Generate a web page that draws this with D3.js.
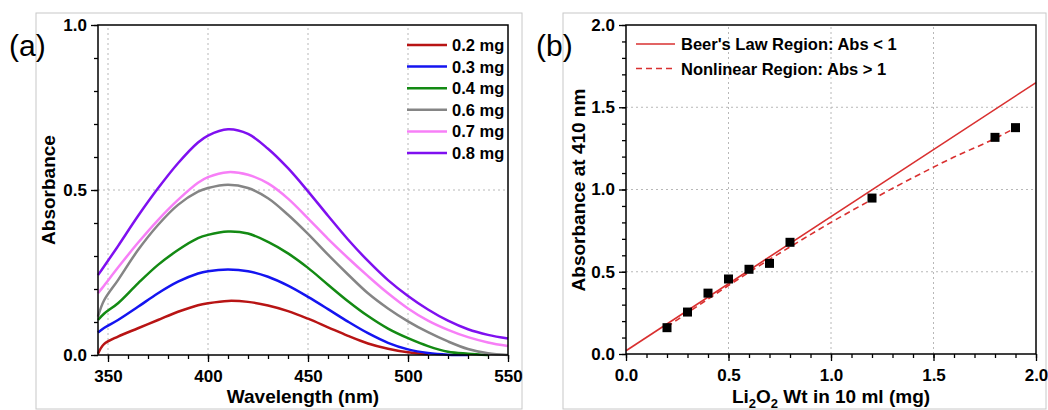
<!DOCTYPE html>
<html>
<head>
<meta charset="utf-8">
<script src="https://cdn.jsdelivr.net/npm/d3@7"></script>
<style>
  body { margin: 0; background: #fff; }
  svg { display: block; font-family: "Liberation Sans", Arial, sans-serif; }
  .tick text { font-weight: bold; font-size: 17px; fill: #000; }
  .tick line { stroke: #000; stroke-width: 1.3; }
  .domain { display: none; }
</style>
</head>
<body>
<svg id="chart" width="1048" height="410"></svg>
<script>
// ---- panel (a): UV-vis spectra ----
const wavelengths = [345, 348, 355, 365, 375, 385, 395, 400, 410, 420, 430, 440, 450, 460, 470, 480, 490, 500, 510, 520, 530, 540, 550];
const spectraLabels = ["0.2 mg", "0.3 mg", "0.4 mg", "0.6 mg", "0.7 mg", "0.8 mg"];
const spectraColors = ["#b81414", "#1414f0", "#138a13", "#858585", "#f77ff7", "#7f10f0"];
const abs02 = [0.004, 0.033, 0.056, 0.081, 0.106, 0.131, 0.151, 0.157, 0.164, 0.161, 0.150, 0.133, 0.110, 0.084, 0.058, 0.035, 0.019, 0.008, 0.002, null, null, null, null];
const abs03 = [0.068, 0.082, 0.106, 0.146, 0.187, 0.222, 0.247, 0.254, 0.259, 0.254, 0.237, 0.210, 0.176, 0.139, 0.101, 0.066, 0.037, 0.017, 0.006, 0.001, 0.0, null, null];
const abs04 = [0.106, 0.125, 0.157, 0.217, 0.273, 0.318, 0.354, 0.364, 0.374, 0.368, 0.343, 0.308, 0.264, 0.213, 0.163, 0.118, 0.080, 0.051, 0.027, 0.010, 0.004, 0.0, null];
const abs06 = [0.116, 0.165, 0.227, 0.318, 0.394, 0.455, 0.495, 0.506, 0.516, 0.506, 0.475, 0.425, 0.367, 0.304, 0.244, 0.187, 0.141, 0.102, 0.069, 0.041, 0.018, 0.005, 0.0];
const abs07 = [0.187, 0.210, 0.265, 0.340, 0.409, 0.470, 0.522, 0.539, 0.554, 0.546, 0.520, 0.474, 0.414, 0.352, 0.294, 0.239, 0.187, 0.141, 0.104, 0.076, 0.054, 0.038, 0.027];
const abs08 = [0.242, 0.268, 0.330, 0.421, 0.505, 0.581, 0.644, 0.665, 0.684, 0.670, 0.625, 0.566, 0.496, 0.422, 0.350, 0.285, 0.227, 0.179, 0.138, 0.104, 0.078, 0.061, 0.050];
const spectra = [abs02, abs03, abs04, abs06, abs07, abs08];
const wlTicks = [350, 400, 450, 500, 550];
const absTicksA = [0, 0.5, 1.0];

// ---- panel (b): calibration ----
const massMg = [0.2, 0.3, 0.4, 0.5, 0.6, 0.7, 0.8, 1.2, 1.8, 1.9];
const abs410 = [0.16, 0.255, 0.37, 0.456, 0.515, 0.551, 0.679, 0.948, 1.317, 1.376];
const beerFitX = [0.0, 2.0];
const beerFitY = [0.02, 1.65];
const nonlinFitX = [0.2, 0.4, 0.6, 0.8, 1.0, 1.2, 1.4, 1.6, 1.8, 1.9];
const nonlinFitY = [0.165, 0.334, 0.497, 0.651, 0.80, 0.939, 1.072, 1.197, 1.31, 1.375];
const fitLabels = ["Beer's Law Region: Abs < 1", "Nonlinear Region: Abs > 1"];
const massTicks = [0, 0.5, 1.0, 1.5, 2.0];
const absTicksB = [0, 0.5, 1.0, 1.5, 2.0];

const svg = d3.select("#chart");

function frame(x0, x1) {
  svg.append("rect")
    .attr("x", x0).attr("y", 13)
    .attr("width", x1 - x0).attr("height", 396)
    .attr("fill", "none").attr("stroke", "#c8c8c8").attr("stroke-width", 1);
}

function drawAxes(x, y, xMajor, xMinor, yMajor, yMinor, fmt) {
  const [xl, xr] = x.range();
  const [yb, yt] = y.range();

  // dotted grid
  const grid = svg.append("g").attr("stroke", "#b8b8b8").attr("stroke-width", 1).attr("stroke-dasharray", "2,3");
  xMajor.filter(v => x(v) > xl + 2 && x(v) < xr - 2).forEach(v => {
    grid.append("line").attr("x1", x(v)).attr("x2", x(v)).attr("y1", yb).attr("y2", yt);
  });
  yMajor.filter(v => y(v) < yb - 2 && y(v) > yt + 2).forEach(v => {
    grid.append("line").attr("x1", xl).attr("x2", xr).attr("y1", y(v)).attr("y2", y(v));
  });

  svg.append("g").attr("transform", `translate(0,${yb})`)
    .call(d3.axisBottom(x).tickValues(xMinor).tickSize(4).tickFormat(""));
  svg.append("g").attr("transform", `translate(0,${yb})`)
    .call(d3.axisBottom(x).tickValues(xMajor).tickSize(7).tickPadding(8).tickFormat(fmt.x));
  svg.append("g").attr("transform", `translate(${xl},0)`)
    .call(d3.axisLeft(y).tickValues(yMinor).tickSize(4).tickFormat(""));
  svg.append("g").attr("transform", `translate(${xl},0)`)
    .call(d3.axisLeft(y).tickValues(yMajor).tickSize(7).tickPadding(4).tickFormat(fmt.y));
}

function box(x, y) {
  const [xl, xr] = x.range();
  const [yb, yt] = y.range();
  svg.append("rect")
    .attr("x", xl).attr("y", yt)
    .attr("width", xr - xl).attr("height", yb - yt)
    .attr("fill", "none").attr("stroke", "#000").attr("stroke-width", 1.5);
}

function range(a, b, step) {
  const out = [];
  for (let v = a; v <= b + 1e-9; v += step) out.push(+v.toFixed(3));
  return out;
}

// ================= panel (a) =================
frame(36, 522);
const xA = d3.scaleLinear().domain([345, 550]).range([98, 508]);
const yA = d3.scaleLinear().domain([0, 1]).range([355, 25]);

drawAxes(xA, yA, wlTicks, range(350, 550, 10), absTicksA, range(0, 1, 0.1),
  { x: d3.format("d"), y: d3.format(".1f") });

const specLine = d3.line()
  .defined(d => d[1] !== null)
  .x(d => xA(d[0]))
  .y(d => yA(d[1]))
  .curve(d3.curveCatmullRom.alpha(0.5));

spectra.forEach((vals, i) => {
  svg.append("path")
    .datum(wavelengths.map((w, j) => [w, vals[j]]))
    .attr("fill", "none")
    .attr("stroke", spectraColors[i])
    .attr("stroke-width", 2.5)
    .attr("d", specLine);
});

box(xA, yA);

const legA = svg.append("g").attr("transform", "translate(407,45)");
spectraLabels.forEach((lab, i) => {
  const g = legA.append("g").attr("transform", `translate(0,${i * 21.6})`);
  g.append("line").attr("x1", 0).attr("x2", 40).attr("y1", 0).attr("y2", 0)
    .attr("stroke", spectraColors[i]).attr("stroke-width", 2.5);
  g.append("text").attr("x", 45).attr("y", 6)
    .attr("font-size", 16.5).attr("font-weight", "bold").text(lab);
});

svg.append("text")
  .attr("transform", "translate(55,190) rotate(-90)")
  .attr("text-anchor", "middle")
  .attr("font-size", 19).attr("font-weight", "bold")
  .text("Absorbance");
svg.append("text")
  .attr("x", 303).attr("y", 403)
  .attr("text-anchor", "middle")
  .attr("font-size", 19).attr("font-weight", "bold")
  .text("Wavelength (nm)");
svg.append("text")
  .attr("x", 9).attr("y", 56)
  .attr("font-size", 30)
  .text("(a)");

// ================= panel (b) =================
frame(563, 1046);
const xB = d3.scaleLinear().domain([0, 2]).range([626, 1036]);
const yB = d3.scaleLinear().domain([0, 2]).range([354, 25]);

drawAxes(xB, yB, massTicks, range(0, 2, 0.1), absTicksB, range(0, 2, 0.1),
  { x: d3.format(".1f"), y: d3.format(".1f") });

const fitColor = "#d93030";
const fitLine = d3.line().x(d => xB(d[0])).y(d => yB(d[1]));

svg.append("path")
  .datum(beerFitX.map((v, i) => [v, beerFitY[i]]))
  .attr("fill", "none").attr("stroke", fitColor).attr("stroke-width", 1.6)
  .attr("d", fitLine);

svg.append("path")
  .datum(nonlinFitX.map((v, i) => [v, nonlinFitY[i]]))
  .attr("fill", "none").attr("stroke", fitColor).attr("stroke-width", 1.6)
  .attr("stroke-dasharray", "6,4")
  .attr("d", fitLine.curve(d3.curveMonotoneX));

svg.append("g").selectAll("rect")
  .data(massMg.map((v, i) => [v, abs410[i]]))
  .join("rect")
  .attr("x", d => xB(d[0]) - 4.5)
  .attr("y", d => yB(d[1]) - 4.5)
  .attr("width", 9).attr("height", 9)
  .attr("fill", "#000");

box(xB, yB);

const legB = svg.append("g").attr("transform", "translate(636,44)");
fitLabels.forEach((lab, i) => {
  const g = legB.append("g").attr("transform", `translate(0,${i * 24.5})`);
  g.append("line").attr("x1", 0).attr("x2", 39).attr("y1", 0).attr("y2", 0)
    .attr("stroke", fitColor).attr("stroke-width", 1.6)
    .attr("stroke-dasharray", i === 1 ? "6,4" : null);
  g.append("text").attr("x", 45).attr("y", 6)
    .attr("font-size", 16.5).attr("font-weight", "bold").text(lab);
});

svg.append("text")
  .attr("transform", "translate(585,190) rotate(-90)")
  .attr("text-anchor", "middle")
  .attr("font-size", 19).attr("font-weight", "bold")
  .text("Absorbance at 410 nm");

const xLabB = svg.append("text")
  .attr("x", 831).attr("y", 403)
  .attr("text-anchor", "middle")
  .attr("font-size", 19).attr("font-weight", "bold");
xLabB.append("tspan").text("Li");
xLabB.append("tspan").attr("font-size", 13).attr("dy", 5).text("2");
xLabB.append("tspan").attr("dy", -5).text("O");
xLabB.append("tspan").attr("font-size", 13).attr("dy", 5).text("2");
xLabB.append("tspan").attr("dy", -5).text(" Wt in 10 ml (mg)");

svg.append("text")
  .attr("x", 536).attr("y", 56)
  .attr("font-size", 30)
  .text("(b)");
</script>
</body>
</html>
